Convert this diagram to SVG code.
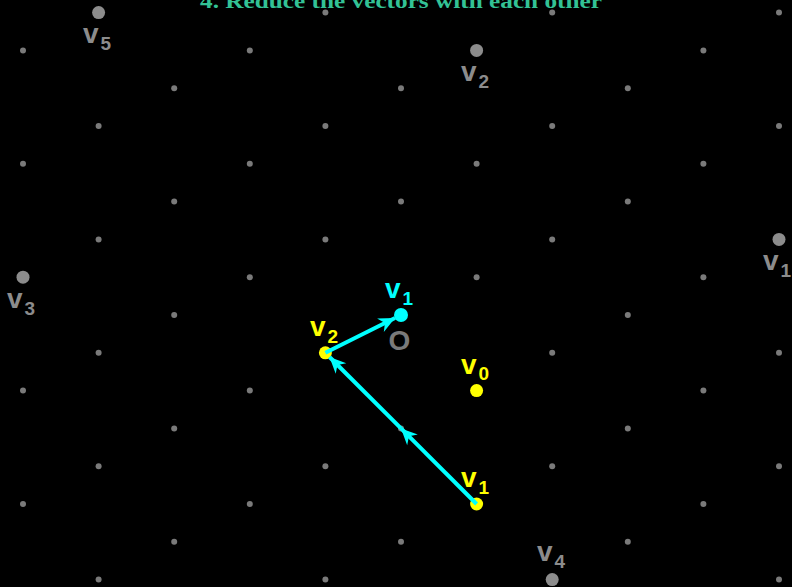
<svg xmlns="http://www.w3.org/2000/svg" width="792" height="587" viewBox="0 0 792 587">
<style>
.g{fill:#7a7a7a}
.big{fill:#8c8c8c}
.yl{fill:#ffff00}
.cy{fill:#00ffff}
.lbl{font-family:"Liberation Sans",Arial,sans-serif;font-weight:bold;font-size:28px}
.sub{font-size:19px}
.lg{fill:#8c8c8c}
.conn{stroke:#00ffff;stroke-width:4;fill:none}
.title{font-family:"Liberation Serif","Times New Roman",serif;font-size:21px;fill:#33c295;font-weight:bold}
</style>
<defs>
<marker id="ah" markerUnits="userSpaceOnUse" markerWidth="20" markerHeight="20" viewBox="-14 -7 16 14" refX="0" refY="0" orient="auto">
<path d="M0,0 L-13,-6 L-9,0 L-13,6 Z" fill="#00ffff"/>
</marker>
</defs>
<rect width="792" height="587" fill="#000"/>
<g id="grid">
<circle class="g" cx="325.4" cy="12.6" r="3"/><circle class="g" cx="552.2" cy="12.6" r="3"/><circle class="g" cx="779" cy="12.6" r="3"/>
<circle class="g" cx="23" cy="50.4" r="3"/><circle class="g" cx="249.8" cy="50.4" r="3"/><circle class="g" cx="703.4" cy="50.4" r="3"/>
<circle class="g" cx="174.2" cy="88.2" r="3"/><circle class="g" cx="401" cy="88.2" r="3"/><circle class="g" cx="627.8" cy="88.2" r="3"/>
<circle class="g" cx="98.6" cy="126" r="3"/><circle class="g" cx="325.4" cy="126" r="3"/><circle class="g" cx="552.2" cy="126" r="3"/><circle class="g" cx="779" cy="126" r="3"/>
<circle class="g" cx="23" cy="163.8" r="3"/><circle class="g" cx="249.8" cy="163.8" r="3"/><circle class="g" cx="476.6" cy="163.8" r="3"/><circle class="g" cx="703.4" cy="163.8" r="3"/>
<circle class="g" cx="174.2" cy="201.6" r="3"/><circle class="g" cx="401" cy="201.6" r="3"/><circle class="g" cx="627.8" cy="201.6" r="3"/>
<circle class="g" cx="98.6" cy="239.4" r="3"/><circle class="g" cx="325.4" cy="239.4" r="3"/><circle class="g" cx="552.2" cy="239.4" r="3"/>
<circle class="g" cx="249.8" cy="277.2" r="3"/><circle class="g" cx="476.6" cy="277.2" r="3"/><circle class="g" cx="703.4" cy="277.2" r="3"/>
<circle class="g" cx="174.2" cy="315" r="3"/><circle class="g" cx="627.8" cy="315" r="3"/>
<circle class="g" cx="98.6" cy="352.8" r="3"/><circle class="g" cx="552.2" cy="352.8" r="3"/><circle class="g" cx="779" cy="352.8" r="3"/>
<circle class="g" cx="23" cy="390.6" r="3"/><circle class="g" cx="249.8" cy="390.6" r="3"/><circle class="g" cx="703.4" cy="390.6" r="3"/>
<circle class="g" cx="174.2" cy="428.4" r="3"/><circle class="g" cx="401" cy="428.4" r="3"/><circle class="g" cx="627.8" cy="428.4" r="3"/>
<circle class="g" cx="98.6" cy="466.2" r="3"/><circle class="g" cx="325.4" cy="466.2" r="3"/><circle class="g" cx="552.2" cy="466.2" r="3"/><circle class="g" cx="779" cy="466.2" r="3"/>
<circle class="g" cx="23" cy="504" r="3"/><circle class="g" cx="249.8" cy="504" r="3"/><circle class="g" cx="703.4" cy="504" r="3"/>
<circle class="g" cx="174.2" cy="541.8" r="3"/><circle class="g" cx="401" cy="541.8" r="3"/><circle class="g" cx="627.8" cy="541.8" r="3"/>
<circle class="g" cx="98.6" cy="579.6" r="3"/><circle class="g" cx="325.4" cy="579.6" r="3"/><circle class="g" cx="779" cy="579.6" r="3"/>
</g>
<text class="title" x="200" y="8" textLength="402" lengthAdjust="spacingAndGlyphs">4.  Reduce the vectors with each other</text>
<g id="v5-gray"><circle class="big" cx="98.6" cy="12.6" r="6.5"/><text class="lbl lg" x="83" y="43">v<tspan class="sub" dx="2" dy="7">5</tspan></text></g>
<g id="v2-gray"><circle class="big" cx="476.6" cy="50.4" r="6.5"/><text class="lbl lg" x="461" y="81">v<tspan class="sub" dx="2" dy="7">2</tspan></text></g>
<g id="v1-gray"><circle class="big" cx="779" cy="239.4" r="6.5"/><text class="lbl lg" x="763" y="270">v<tspan class="sub" dx="2" dy="7">1</tspan></text></g>
<g id="v3-gray"><circle class="big" cx="23" cy="277.2" r="6.5"/><text class="lbl lg" x="7" y="308">v<tspan class="sub" dx="2" dy="7">3</tspan></text></g>
<g id="v4-gray"><circle class="big" cx="552.2" cy="579.6" r="6.5"/><text class="lbl lg" x="537" y="561">v<tspan class="sub" dx="2" dy="7">4</tspan></text></g>
<g id="origin"><text x="388.5" y="350" font-family="Liberation Sans,Arial,sans-serif" font-weight="bold" font-size="28" fill="#7a7a7a">O</text></g>
<g id="v0-yellow"><circle class="yl" cx="476.6" cy="390.6" r="6.5"/><text class="lbl yl" x="461" y="374">v<tspan class="sub" dx="2" dy="6">0</tspan></text></g>
<g id="v2-yellow"><circle class="yl" cx="325.4" cy="352.8" r="6.5"/><text class="lbl yl" x="310" y="336">v<tspan class="sub" dx="2" dy="7">2</tspan></text></g>
<g id="v1-yellow"><circle class="yl" cx="476.6" cy="504" r="6.5"/><text class="lbl yl" x="461" y="487">v<tspan class="sub" dx="2" dy="7">1</tspan></text></g>
<g id="connectors">
<line class="conn" x1="476.6" y1="504" x2="401" y2="428.4" marker-end="url(#ah)"/>
<line class="conn" x1="401" y1="428.4" x2="329.5" y2="357" marker-end="url(#ah)"/>
<line class="conn" x1="325.4" y1="352.8" x2="395" y2="318" marker-end="url(#ah)"/>
</g>
<g id="v1-cyan"><circle class="cy" cx="401" cy="315" r="7"/><text class="lbl cy" x="385" y="298">v<tspan class="sub" dx="2" dy="7">1</tspan></text></g>
</svg>
